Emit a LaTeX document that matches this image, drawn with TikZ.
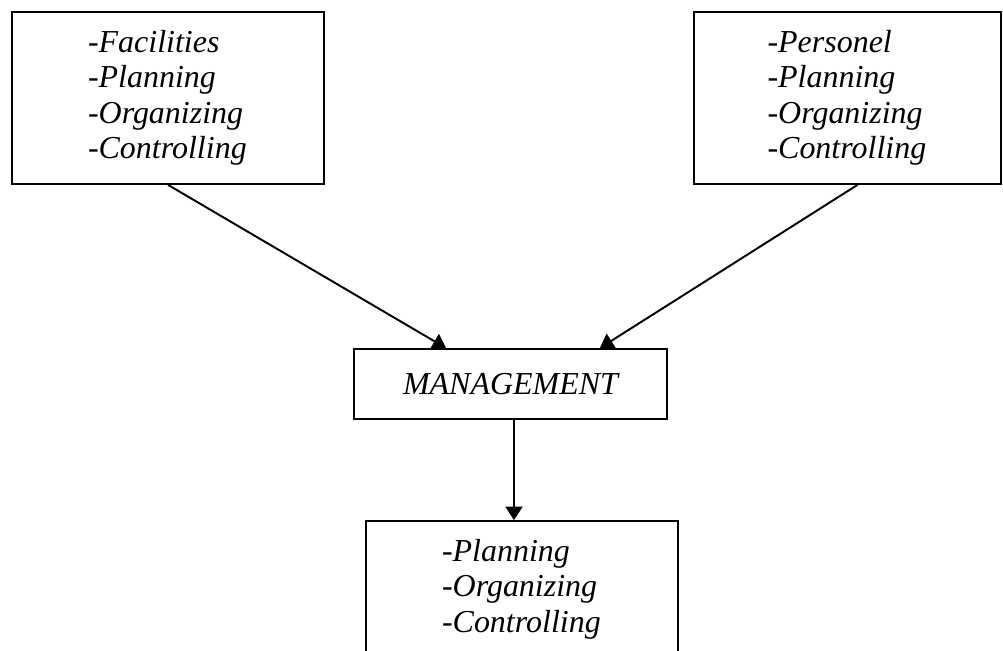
\documentclass[tikz,border=0pt]{standalone}
\usepackage{fontspec}
\setmainfont{Liberation Serif}
\usetikzlibrary{arrows.meta,calc}

\tikzset{
  frame/.style={draw, line width=1pt, font=\fontsize{18.2}{20.2}\selectfont\itshape},
  list/.style={frame, align=left, text width=3.2cm, minimum width=6.24cm},
  flow/.style={line width=1.1pt, -{Triangle[length=0.27cm,width=0.34cm]}}
}

\begin{document}
\begin{tikzpicture}[x=0.02cm,y=-0.02cm]
\useasboundingbox (0,0) rectangle (1003,650);
% the two input boxes
\foreach \name/\x/\w/\first in {facil/168/6.24cm/Facilities, person/847.5/6.14cm/Personel} {
  \node[list, minimum width=\w, minimum height=3.44cm] (\name) at (\x,98)
    {-\first\\-Planning\\-Organizing\\-Controlling};
}
\node[frame, minimum width=6.26cm, minimum height=1.4cm] (manage) at (510.5,384) {MANAGEMENT};
\node[list, minimum height=2.72cm] (result) at (522,589)
  {-Planning\\-Organizing\\-Controlling};

\draw[flow] (facil.south) -- ($(manage.north west)+(93,0)$);
\draw[flow] ($(person.south)+(10,0)$) -- ($(manage.north east)+(-68,0)$);
\draw[flow] ($(manage.south)+(3.5,0)$) coordinate (m) -- (m |- result.north);
\end{tikzpicture}
\end{document}
